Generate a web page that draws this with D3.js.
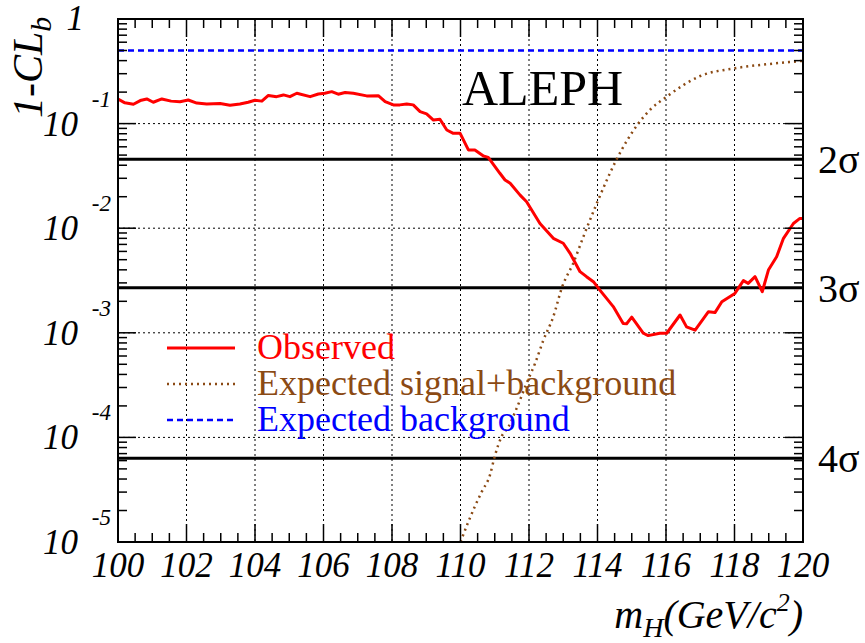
<!DOCTYPE html>
<html lang="en">
<head>
    <meta charset="UTF-8">
    <title>aleph-clb</title>
    <style>
        body {
            margin: 0;
            background: white;
        }
        text {
            font-family: "Liberation Serif", "Times New Roman", serif;
        }
    </style>
    <script src="https://d3js.org/d3.v7.min.js"></script>
</head>
<body>

<script>

    // observed 1-CLb vs Higgs mass
    let obsMass = [100.0, 100.2, 100.45, 100.65, 100.84, 101.03, 101.28, 101.55, 101.81, 102.05,
        102.3, 102.59, 102.98, 103.27, 103.56, 103.8, 104.0, 104.2, 104.39, 104.63,
        104.83, 105.02, 105.22, 105.61, 105.85, 106.04, 106.24, 106.43, 106.63, 106.87,
        107.26, 107.6, 107.8, 108.04, 108.23, 108.43, 108.62, 108.82, 109.01, 109.21,
        109.4, 109.6, 109.79, 109.99, 110.23, 110.42, 110.67, 110.81, 111.15, 111.3,
        111.45, 111.74, 111.93, 112.32, 112.71, 113.0, 113.2, 113.49, 113.68, 113.88,
        114.07, 114.46, 114.75, 114.85, 115.0, 115.34, 115.48, 115.82, 116.02, 116.41,
        116.6, 116.85, 117.24, 117.43, 117.63, 118.01, 118.26, 118.4, 118.6, 118.81,
        118.99, 119.23, 119.43, 119.72, 119.91, 120.0];
    let obsValues = [0.172, 0.158, 0.153, 0.166, 0.172, 0.160, 0.172, 0.164, 0.162, 0.168,
        0.157, 0.154, 0.156, 0.150, 0.154, 0.160, 0.167, 0.164, 0.186, 0.181,
        0.188, 0.181, 0.195, 0.181, 0.192, 0.195, 0.202, 0.191, 0.198, 0.195,
        0.184, 0.185, 0.162, 0.151, 0.151, 0.154, 0.151, 0.130, 0.124, 0.108,
        0.110, 0.0869, 0.0807, 0.0807, 0.0560, 0.0560, 0.0490, 0.0476, 0.0335, 0.0289,
        0.0269, 0.0207, 0.0179, 0.0111, 0.0080, 0.00718, 0.00575, 0.00384, 0.00344, 0.00308,
        0.00256, 0.00178, 0.00123, 0.00122, 0.00141, 0.00099, 0.00094, 0.00099, 0.00099, 0.00148,
        0.00114, 0.00106, 0.00159, 0.00156, 0.00198, 0.00238, 0.00315, 0.00297, 0.00344, 0.00247,
        0.00398, 0.00533, 0.0080, 0.0111, 0.0124, 0.0124];

    // expected for signal+background
    let sbMass = [110.0, 110.23, 110.42, 110.62, 110.86, 111.0, 111.2, 111.4, 111.64, 111.93,
        112.18, 112.42, 112.71, 112.97, 113.29, 113.6, 113.98, 114.56, 115.19, 115.53,
        116.02, 117.0, 118.01, 119.04, 120.0];
    let sbValues = [1.0e-5, 1.56e-5, 2.19e-5, 3.02e-5, 4.37e-5, 6.6e-5, 1.02e-4, 1.26e-4, 1.9e-4, 3.29e-4,
        5.13e-4, 8.5e-4, 1.43e-3, 2.76e-3, 4.61e-3, 8.5e-3, 1.73e-2, 4.56e-2, 0.1, 0.135,
        0.181, 0.285, 0.338, 0.372, 0.398];

    // expected for background only
    let bgMass = [100, 120];
    let bgValues = [0.5, 0.5];

    // significance levels
    let sigmaLabels = ["2σ", "3σ", "4σ"];
    let sigmaValues = [4.55e-2, 2.7e-3, 6.33e-5];

    let yExponents = [-1, -2, -3, -4, -5];
    let xTickLabels = [100, 102, 104, 106, 108, 110, 112, 114, 116, 118, 120];

    let legendLabels = ["Observed", "Expected signal+background", "Expected background"];
    let legendColors = ["#ff0000", "#8b4a14", "#0000ff"];
    let legendDash = ["none", "2,4", "6,4"];

    let width = 865;
    let height = 643;
    let pLeft = 118, pRight = 803, pTop = 19, pBottom = 542;

    let svg = d3.select("body").append("svg")
        .attr("width", width)
        .attr("height", height);

    svg.append("rect")
        .attr("width", "100%")
        .attr("height", "100%")
        .attr("fill", "white");

    let x = d3.scaleLinear().domain([100, 120]).range([pLeft, pRight]);
    let y = d3.scaleLog().domain([1e-5, 1]).range([pBottom, pTop]);

    svg.append("defs").append("clipPath")
        .attr("id", "plot-clip")
        .append("rect")
        .attr("x", pLeft).attr("y", pTop)
        .attr("width", pRight - pLeft).attr("height", pBottom - pTop);

    // grid
    let grid = svg.append("g")
        .attr("stroke", "#000")
        .attr("stroke-width", 1)
        .attr("stroke-dasharray", "2,3");

    grid.selectAll(".vgrid")
        .data(xTickLabels.slice(1, -1))
        .enter().append("line")
        .attr("x1", d => x(d)).attr("x2", d => x(d))
        .attr("y1", pTop).attr("y2", pBottom);

    grid.selectAll(".hgrid")
        .data(yExponents.slice(0, -1))
        .enter().append("line")
        .attr("x1", pLeft).attr("x2", pRight)
        .attr("y1", d => y(Math.pow(10, d))).attr("y2", d => y(Math.pow(10, d)));

    // sigma lines
    svg.append("g").selectAll("line")
        .data(sigmaValues)
        .enter().append("line")
        .attr("x1", pLeft).attr("x2", pRight)
        .attr("y1", d => y(d)).attr("y2", d => y(d))
        .attr("stroke", "#000")
        .attr("stroke-width", 3);

    svg.append("g").selectAll("text")
        .data(sigmaValues)
        .enter().append("text")
        .attr("x", pRight + 15)
        .attr("y", d => y(d) + 14)
        .attr("font-size", 40)
        .text((d, i) => sigmaLabels[i]);

    // curves
    let curves = svg.append("g").attr("clip-path", "url(#plot-clip)");

    let line = d3.line()
        .x(d => x(d[0]))
        .y(d => y(d[1]));

    curves.append("path")
        .datum(bgMass.map((m, i) => [m, bgValues[i]]))
        .attr("d", line)
        .attr("fill", "none")
        .attr("stroke", legendColors[2])
        .attr("stroke-width", 2.5)
        .attr("stroke-dasharray", legendDash[2]);

    curves.append("path")
        .datum(sbMass.map((m, i) => [m, sbValues[i]]))
        .attr("d", line.curve(d3.curveMonotoneX))
        .attr("fill", "none")
        .attr("stroke", legendColors[1])
        .attr("stroke-width", 2.5)
        .attr("stroke-dasharray", legendDash[1]);

    curves.append("path")
        .datum(obsMass.map((m, i) => [m, obsValues[i]]))
        .attr("d", line.curve(d3.curveLinear))
        .attr("fill", "none")
        .attr("stroke", legendColors[0])
        .attr("stroke-width", 3)
        .attr("stroke-linejoin", "round");

    // frame
    svg.append("rect")
        .attr("x", pLeft).attr("y", pTop)
        .attr("width", pRight - pLeft).attr("height", pBottom - pTop)
        .attr("fill", "none")
        .attr("stroke", "#000")
        .attr("stroke-width", 2);

    // ticks, pointing inwards on all four sides
    let ticks = svg.append("g").attr("stroke", "#000").attr("stroke-width", 1.5);

    let xt = x.ticks(40);
    let isMajorX = d => Math.abs(d % 2) < 1e-6;
    ticks.selectAll(".xb")
        .data(xt).enter().append("line")
        .attr("x1", d => x(d)).attr("x2", d => x(d))
        .attr("y1", pBottom).attr("y2", d => pBottom - (isMajorX(d) ? 18 : 9));
    ticks.selectAll(".xt")
        .data(xt).enter().append("line")
        .attr("x1", d => x(d)).attr("x2", d => x(d))
        .attr("y1", pTop).attr("y2", d => pTop + (isMajorX(d) ? 18 : 9));

    let yt = y.ticks();
    let isMajorY = d => Math.abs(Math.log10(d) - Math.round(Math.log10(d))) < 1e-6;
    ticks.selectAll(".yl")
        .data(yt).enter().append("line")
        .attr("y1", d => y(d)).attr("y2", d => y(d))
        .attr("x1", pLeft).attr("x2", d => pLeft + (isMajorY(d) ? 18 : 9));
    ticks.selectAll(".yr")
        .data(yt).enter().append("line")
        .attr("y1", d => y(d)).attr("y2", d => y(d))
        .attr("x1", pRight).attr("x2", d => pRight - (isMajorY(d) ? 18 : 9));

    // x tick labels
    svg.append("g").selectAll("text")
        .data(xTickLabels)
        .enter().append("text")
        .attr("x", d => x(d))
        .attr("y", pBottom + 35)
        .attr("text-anchor", "middle")
        .attr("font-size", 35)
        .attr("font-style", "italic")
        .text(d => d);

    // y tick labels, ROOT style 10 with exponent above
    let yl = svg.append("g")
        .attr("font-style", "italic");

    yl.selectAll(".ten")
        .data(yExponents).enter().append("text")
        .attr("x", 78)
        .attr("y", d => y(Math.pow(10, d)) + 12)
        .attr("text-anchor", "end")
        .attr("font-size", 35)
        .text("10");

    yl.selectAll(".exp")
        .data(yExponents).enter().append("text")
        .attr("x", 111)
        .attr("y", d => y(Math.pow(10, d)) - 17)
        .attr("text-anchor", "end")
        .attr("font-size", 23)
        .text(d => "-" + Math.abs(d));

    yl.append("text")
        .attr("x", 84)
        .attr("y", y(1) + 11)
        .attr("text-anchor", "end")
        .attr("font-size", 35)
        .text("1");

    // axis titles
    let xTitle = svg.append("text")
        .attr("x", pRight)
        .attr("y", 628)
        .attr("text-anchor", "end")
        .attr("font-size", 40)
        .attr("font-style", "italic");
    xTitle.append("tspan").text("m");
    xTitle.append("tspan").attr("font-size", 28).attr("dy", 9).text("H");
    xTitle.append("tspan").attr("dy", -9).text("(GeV/c");
    xTitle.append("tspan").attr("font-size", 26).attr("dy", -17).text("2");
    xTitle.append("tspan").attr("dy", 17).text(")");

    let yTitle = svg.append("text")
        .attr("transform", "translate(42,118) rotate(-90)")
        .attr("font-size", 42)
        .attr("font-style", "italic");
    yTitle.append("tspan").text("1-CL");
    yTitle.append("tspan").attr("font-size", 30).attr("dy", 9).text("b");

    svg.append("text")
        .attr("x", 462)
        .attr("y", 105)
        .attr("font-size", 50)
        .text("ALEPH");

    // legend
    let legend = svg.append("g")
        .selectAll("g")
        .data(legendLabels)
        .enter().append("g")
        .attr("transform", (d, i) => "translate(0," + (348 + i * 36) + ")");

    legend.append("line")
        .attr("x1", 167).attr("x2", 235)
        .attr("y1", 0).attr("y2", 0)
        .attr("stroke", (d, i) => legendColors[i])
        .attr("stroke-width", (d, i) => i === 0 ? 3 : 2.5)
        .attr("stroke-dasharray", (d, i) => legendDash[i]);

    legend.append("text")
        .attr("x", 257)
        .attr("y", 11)
        .attr("font-size", 36)
        .attr("fill", (d, i) => legendColors[i])
        .text(d => d);

</script>

</body>
</html>
